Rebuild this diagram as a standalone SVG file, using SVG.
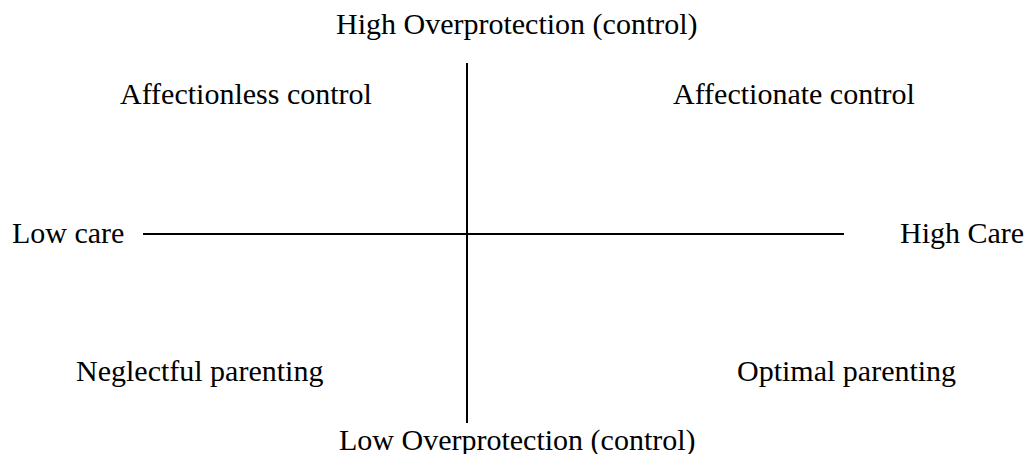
<svg xmlns="http://www.w3.org/2000/svg" width="1028" height="454" viewBox="0 0 1028 454">
<style>
text{font-family:"Liberation Serif","Times New Roman",serif;font-size:30px;fill:#000}
.ax{stroke:#000;stroke-width:2;fill:none}
</style>
<rect width="1028" height="454" fill="#fff"/>
<g id="connectors">
<line class="ax" x1="467" y1="63" x2="467" y2="423"/>
<line class="ax" x1="143" y1="234" x2="844" y2="234"/>
</g>
<g id="high-overprotection"><text x="336" y="34">High Overprotection (control)</text></g>
<g id="low-overprotection"><text x="339" y="450">Low Overprotection (control)</text></g>
<g id="low-care"><text x="12" y="243">Low care</text></g>
<g id="high-care"><text x="900" y="243">High Care</text></g>
<g id="affectionless-control"><text x="120" y="104">Affectionless control</text></g>
<g id="affectionate-control"><text x="673" y="104">Affectionate control</text></g>
<g id="neglectful-parenting"><text x="76" y="381">Neglectful parenting</text></g>
<g id="optimal-parenting"><text x="737" y="381">Optimal parenting</text></g>
</svg>
